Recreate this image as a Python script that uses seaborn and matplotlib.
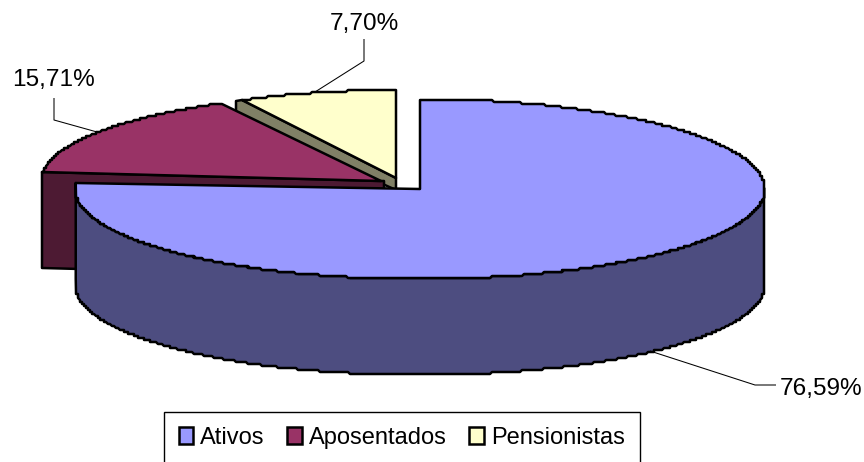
import numpy as np
import matplotlib
matplotlib.use("Agg")
import matplotlib.pyplot as plt
from matplotlib.patches import Patch, Polygon
import seaborn as sns

# Configuration
CATEGORIES = ["Ativos", "Aposentados", "Pensionistas"]
SHARES = [76.59, 15.71, 7.70]
LABELS = ["76,59%", "15,71%", "7,70%"]
TOP_COLORS = ["#9999FF", "#993366", "#FFFFCC"]
SIDE_COLORS = ["#4D4D80", "#4D1A33", "#808066"]

# slice geometry in pixels: tip x, tip y, radius x, radius y
SLICES = [(420, 189, 345, 90), (381, 181, 340, 88), (396, 178, 330, 88)]
DEPTH = 96
EDGE = 1.8
GRID = 2  # the original rim is drawn on a coarse grid, so it looks stepped

sns.set_theme(style="white")
plt.rcParams["font.family"] = ["Liberation Sans", "DejaVu Sans"]


def rim(geom, t0, t1, dy=0):
    """Points along the ellipse rim, angle in degrees clockwise from the top."""
    cx, cy, a, b = geom
    t = np.radians(np.linspace(t0, t1, max(int(abs(t1 - t0)) * 3, 2)))
    pts = np.column_stack([cx + a * np.sin(t), cy - b * np.cos(t)])
    return np.round(pts / GRID) * GRID + (0, dy)


def add_poly(ax, pts, color):
    ax.add_patch(Polygon(pts, closed=True, facecolor=color, edgecolor="black",
                         linewidth=EDGE, joinstyle="round"))


def leader(ax, xs, ys):
    ax.plot(xs, ys, color="black", lw=0.75, solid_capstyle="butt")


edges = np.concatenate([[0], np.cumsum(SHARES)]) / sum(SHARES) * 360

fig, ax = plt.subplots(figsize=(8.64, 4.62), dpi=100)
fig.subplots_adjust(0, 0, 1, 1)
ax.set_xlim(0, 864)
ax.set_ylim(462, 0)
ax.axis("off")

# Pensionistas, back slice with its grey cut face
geom = SLICES[2]
start, end = edges[2], edges[3]
left = rim(geom, start, start)[0]
tip = np.array(geom[:2], dtype=float)
add_poly(ax, [(236, 101), left, tip, tip + (0, 12), (236, 118)], SIDE_COLORS[2])
add_poly(ax, np.vstack([[tip], rim(geom, start, end)]), TOP_COLORS[2])

# Aposentados, cut face first and then the top
geom = SLICES[1]
start, end = edges[1], edges[2]
left = rim(geom, start, start)[0]
tip = np.array(geom[:2], dtype=float)
add_poly(ax, [left, tip, tip + (3, 0), tip + (3, DEPTH), left + (0, DEPTH)], SIDE_COLORS[1])
add_poly(ax, np.vstack([[tip], rim(geom, start, end)]), TOP_COLORS[1])

# Ativos, front wall and then the top with its squared left corner
geom = SLICES[0]
start, end = edges[0], edges[1]
corner = np.array([geom[0] - geom[2] * 0.995 - 1, geom[1] - 6], dtype=float)
add_poly(ax, np.vstack([rim(geom, 90, 265), [corner], [corner + (0, DEPTH)],
                        rim(geom, 265, 90, DEPTH)]), SIDE_COLORS[0])
add_poly(ax, np.vstack([[geom[:2]], rim(geom, start, 265), [corner]]), TOP_COLORS[0])

# Labels with their leader lines
leader(ax, [650, 755, 776], [351, 385, 385])
ax.text(780, 389, LABELS[0], fontsize=17.6, ha="left", va="center", color="black")
leader(ax, [97, 54, 54], [132, 120, 98])
ax.text(53, 80, LABELS[1], fontsize=17.6, ha="center", va="center", color="black")
leader(ax, [315, 364, 364], [92, 61, 39])
ax.text(364, 24, LABELS[2], fontsize=17.6, ha="center", va="center", color="black")

handles = [Patch(facecolor=c, edgecolor="black", linewidth=EDGE, label=n)
           for n, c in zip(CATEGORIES, TOP_COLORS)]
ax.legend(handles=handles, loc="upper left", bbox_to_anchor=(164 / 864, 1 - 412 / 462),
          ncol=3, fontsize=17, frameon=True, fancybox=False, edgecolor="black",
          framealpha=1, borderpad=0.62, borderaxespad=0, handlelength=0.62, handleheight=0.72,
          handletextpad=0.3, columnspacing=0.95, labelcolor="black")

fig.savefig("out.png", dpi=100)
